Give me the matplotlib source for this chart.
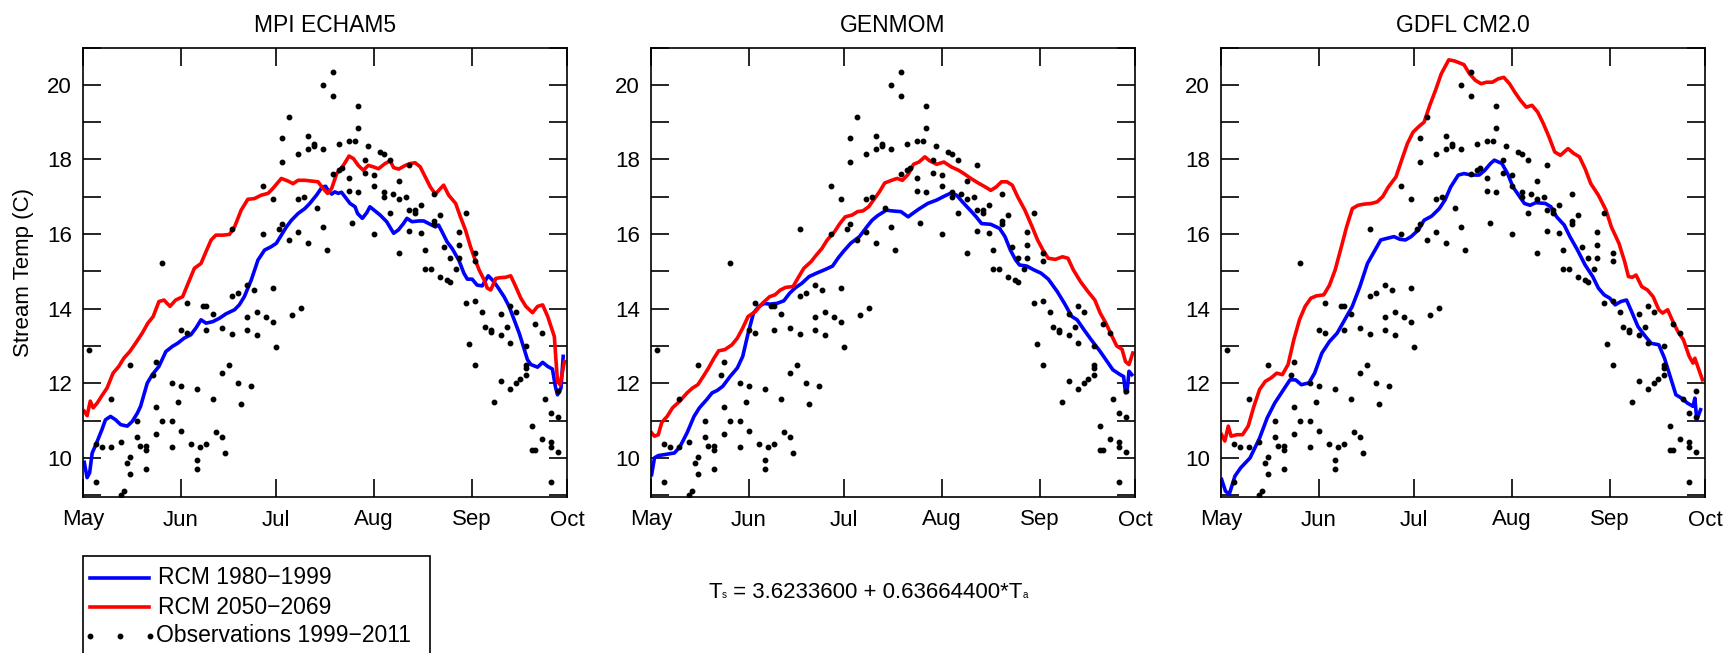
"""
Stream temperature: RCM runs for 1980-1999 and 2050-2069 against observations.
"""

import matplotlib.pyplot as plt
from matplotlib.lines import Line2D
from matplotlib.patches import Rectangle
from matplotlib.offsetbox import TextArea, HPacker, AnchoredOffsetbox

plt.rcParams["font.family"] = ["Liberation Sans", "DejaVu Sans"]

W, H = 1731, 653

month_days = [0, 31, 61, 92, 123, 153]
month_names = ["May", "Jun", "Jul", "Aug", "Sep", "Oct"]
models = ["MPI ECHAM5", "GENMOM", "GDFL CM2.0"]

# observations 1999-2011, day counted from May 1
obs_day = [2, 4, 4, 6, 9, 9, 12, 12, 13, 14, 15, 15, 15, 17, 17, 18, 20, 20, 20,
           22, 23, 23, 23, 25, 25, 28, 28, 28, 30, 31, 31, 31, 33, 33, 34, 36, 36,
           36, 37, 38, 39, 39, 39, 41, 41, 42, 44, 44, 44, 45, 46, 47, 47, 47, 49,
           49, 50, 52, 52, 52, 53, 54, 55, 55, 57, 57, 58, 60, 60, 60, 61, 62, 63,
           63, 63, 65, 65, 66, 68, 68, 68, 69, 70, 71, 71, 71, 73, 73, 74, 76, 76,
           76, 77, 79, 79, 79, 81, 81, 82, 84, 84, 84, 85, 86, 87, 87, 87, 89, 89,
           90, 92, 92, 92, 94, 95, 95, 95, 97, 97, 98, 100, 100, 100, 102, 103, 103,
           103, 105, 105, 107, 107, 108, 108, 110, 111, 111, 111, 113, 113, 114, 115,
           116, 116, 118, 119, 119, 119, 121, 121, 122, 124, 124, 124, 124, 126, 127,
           129, 129, 130, 132, 132, 132, 134, 135, 135, 135, 137, 137, 138, 140, 140,
           140, 140, 142, 142, 143, 143, 145, 145, 146, 148, 148, 148, 148, 150, 150,
           150]
obs_temp = [12.90, 9.35, 10.36, 10.29, 11.57, 10.29, 10.42, 9.00, 9.11, 9.85, 10.03,
            12.50, 9.56, 11.00, 10.56, 10.31, 10.33, 10.20, 9.71, 12.21, 12.57, 11.35,
            10.63, 15.21, 11.00, 12.00, 11.00, 10.29, 11.50, 13.42, 11.93, 10.73, 14.14,
            13.35, 10.38, 11.85, 9.93, 9.71, 10.29, 14.07, 14.07, 13.42, 10.37, 13.85,
            11.57, 10.70, 13.49, 12.28, 10.56, 10.14, 12.50, 16.14, 14.35, 13.32, 14.42,
            12.00, 11.43, 14.63, 13.78, 13.42, 11.93, 14.49, 13.92, 13.28, 17.28, 16.00,
            13.78, 16.93, 14.56, 13.64, 12.97, 16.14, 18.57, 17.92, 16.27, 19.14, 15.85,
            13.84, 18.14, 16.93, 16.06, 14.03, 17.00, 18.64, 18.28, 15.75, 18.42, 18.35,
            16.71, 19.99, 18.28, 16.20, 15.57, 20.35, 19.71, 17.62, 18.42, 17.71, 17.78,
            18.49, 17.50, 17.16, 16.29, 18.49, 19.42, 18.85, 17.13, 17.99, 17.64, 18.35,
            17.57, 17.28, 16.00, 18.21, 18.14, 17.13, 17.00, 17.99, 16.57, 17.06, 17.42,
            16.93, 15.50, 17.00, 17.85, 16.64, 16.07, 16.64, 16.57, 16.78, 16.03, 15.56,
            15.06, 15.06, 17.06, 16.35, 16.27, 16.50, 14.85, 15.64, 14.78, 15.35, 14.71,
            15.06, 16.06, 15.71, 15.35, 16.57, 14.14, 13.04, 15.50, 15.28, 14.21, 12.50,
            13.92, 13.50, 13.43, 13.36, 11.50, 13.85, 13.28, 12.07, 13.50, 14.06, 13.07,
            11.85, 13.92, 12.00, 12.11, 13.00, 12.50, 12.42, 12.21, 10.86, 10.22, 13.60,
            10.22, 13.35, 10.50, 11.57, 11.21, 10.43, 10.29, 9.36, 11.09, 11.80, 10.16]

# MPI ECHAM5
mpi_base_day = [0.4, 1.3, 2.1, 2.9, 4.2, 6.0, 7.1, 8.7, 10.3, 11.9, 14.0, 15.6, 17.2,
                18.2, 20.3, 21.9, 24.0, 26.2, 28.3, 29.9, 32.0, 34.1, 35.7, 37.3, 38.9,
                41.0, 43.1, 45.2, 47.9, 49.4, 51.0, 53.2, 55.3, 57.4, 59.5, 61.1, 62.7,
                64.3, 65.9, 68.0, 70.1, 71.7, 73.8, 75.6, 76.7, 77.5, 78.6, 79.6, 80.7,
                81.7, 82.8, 84.4, 86.0, 86.8, 88.3, 89.7, 90.7, 92.3, 93.9, 96.0, 98.2,
                99.7, 101.3, 102.4, 104.0, 106.1, 107.7, 109.3, 111.4, 112.4, 113.5,
                115.1, 116.7, 118.8, 120.4, 121.5, 123.0, 124.6, 126.2, 128.1, 129.4,
                131.0, 133.1, 134.7, 136.3, 137.9, 138.9, 140.5, 141.6, 143.7, 145.3,
                146.9, 148.4, 149.3, 150.0, 151.1, 151.8]
mpi_base_temp = [9.88, 9.47, 9.60, 10.13, 10.38, 10.76, 11.02, 11.11, 11.02, 10.89,
                 10.85, 10.98, 11.20, 11.38, 12.00, 12.23, 12.45, 12.85, 12.99, 13.07,
                 13.21, 13.30, 13.48, 13.70, 13.61, 13.65, 13.74, 13.86, 13.97, 14.10,
                 14.32, 14.77, 15.30, 15.57, 15.66, 15.75, 15.97, 16.19, 16.37, 16.55,
                 16.68, 16.82, 17.04, 17.26, 17.28, 17.17, 17.07, 17.13, 17.09, 17.12,
                 17.00, 16.82, 16.73, 16.55, 16.42, 16.57, 16.73, 16.62, 16.51, 16.33,
                 16.02, 16.11, 16.28, 16.42, 16.33, 16.35, 16.35, 16.28, 16.19, 16.24,
                 16.06, 15.79, 15.61, 15.30, 14.95, 14.79, 14.79, 14.63, 14.61, 14.88,
                 14.77, 14.59, 14.32, 14.06, 13.70, 13.34, 13.07, 12.63, 12.50, 12.43,
                 12.56, 12.45, 12.38, 11.92, 11.69, 11.87, 12.72]
mpi_fut_day = [0.4, 1.3, 2.3, 3.2, 4.5, 6.0, 7.6, 9.5, 11.3, 12.9, 14.8, 16.6, 18.7,
               20.5, 22.2, 24.0, 25.6, 27.5, 29.3, 31.5, 33.0, 35.2, 37.3, 38.9, 40.5,
               42.0, 44.2, 46.3, 47.9, 50.0, 52.1, 54.2, 56.3, 58.5, 60.0, 62.7, 64.8,
               66.4, 68.0, 70.1, 72.2, 74.3, 75.9, 77.3, 78.6, 80.2, 82.3, 84.1, 85.5,
               87.0, 88.6, 90.2, 91.8, 93.4, 95.5, 97.1, 98.2, 99.8, 101.9, 103.5, 105.0,
               106.6, 108.2, 109.8, 111.4, 113.0, 114.0, 115.6, 117.8, 119.3, 120.9,
               122.5, 123.6, 125.2, 126.8, 127.8, 128.9, 130.5, 132.0, 133.6, 135.2,
               136.8, 138.4, 140.0, 142.1, 143.7, 145.3, 146.9, 149.0, 149.5, 150.0,
               150.8, 151.4, 152.2]
mpi_fut_temp = [11.25, 11.13, 11.52, 11.34, 11.47, 11.67, 11.87, 12.27, 12.45, 12.67,
                12.85, 13.07, 13.34, 13.61, 13.79, 14.19, 14.23, 14.06, 14.23, 14.32,
                14.63, 15.08, 15.21, 15.53, 15.84, 15.97, 15.97, 15.99, 16.19, 16.64,
                16.93, 16.95, 17.04, 17.09, 17.22, 17.49, 17.42, 17.35, 17.44, 17.44,
                17.42, 17.40, 17.22, 17.09, 17.22, 17.62, 17.84, 18.09, 18.02, 17.84,
                17.71, 17.84, 17.80, 17.75, 17.89, 17.96, 17.78, 17.74, 17.84, 17.89,
                17.91, 17.80, 17.53, 17.26, 17.07, 17.22, 17.31, 17.04, 16.82, 16.46,
                16.11, 15.66, 15.39, 15.04, 14.77, 14.55, 14.50, 14.81, 14.83, 14.84,
                14.88, 14.59, 14.28, 14.06, 13.89, 14.06, 14.10, 13.79, 13.25, 12.63,
                12.05, 11.96, 12.23, 12.58]

# GENMOM
gen_base_day = [0.2, 1.1, 2.3, 4.5, 7.4, 9.1, 11.4, 13.6, 15.3, 17.6, 19.3, 21.0, 22.7,
                25.0, 27.3, 29.0, 30.7, 32.4, 34.1, 35.8, 37.5, 39.8, 42.0, 43.8, 45.5,
                47.7, 50.0, 52.3, 55.1, 57.4, 59.1, 60.8, 63.1, 65.9, 68.2, 69.9, 71.6,
                74.4, 76.1, 79.0, 81.3, 82.7, 84.7, 87.5, 90.3, 92.6, 94.9, 96.6, 98.9,
                101.1, 102.8, 104.5, 107.4, 110.2, 111.9, 113.6, 115.3, 116.5, 118.8,
                121.0, 123.3, 125.6, 128.4, 130.7, 133.0, 134.7, 136.9, 139.2, 142.0,
                143.8, 146.0, 148.3, 149.4, 150.0, 150.6, 151.1, 152.0]
gen_base_temp = [9.55, 10.00, 10.06, 10.09, 10.13, 10.29, 10.67, 11.11, 11.34, 11.56,
                 11.74, 11.81, 11.92, 12.18, 12.41, 12.72, 13.34, 13.88, 14.06, 14.14,
                 14.12, 14.14, 14.21, 14.41, 14.55, 14.68, 14.86, 14.95, 15.05, 15.14,
                 15.35, 15.53, 15.75, 15.93, 16.19, 16.37, 16.49, 16.64, 16.62, 16.60,
                 16.46, 16.55, 16.67, 16.82, 16.91, 17.01, 17.10, 17.04, 16.82, 16.62,
                 16.46, 16.28, 16.26, 16.15, 15.93, 15.57, 15.30, 15.17, 15.14, 15.04,
                 14.95, 14.79, 14.46, 14.14, 13.79, 13.70, 13.43, 13.16, 12.85, 12.63,
                 12.36, 12.23, 12.18, 11.74, 11.87, 12.32, 12.23]
gen_fut_day = [0.2, 1.1, 2.3, 3.4, 5.1, 6.8, 9.1, 11.4, 13.1, 14.8, 16.5, 18.2, 19.9,
               21.4, 23.3, 25.6, 27.3, 29.0, 30.7, 33.0, 35.2, 37.5, 39.2, 40.9, 42.6,
               44.9, 46.6, 48.3, 50.6, 52.3, 54.0, 55.7, 58.0, 59.7, 61.4, 63.6, 65.3,
               67.0, 68.8, 70.5, 72.2, 73.9, 76.1, 77.8, 79.5, 81.3, 83.0, 84.7, 86.6,
               88.1, 90.3, 92.6, 94.9, 97.2, 98.9, 101.1, 103.4, 105.7, 107.4, 109.1,
               110.8, 112.5, 114.2, 115.9, 118.2, 120.5, 122.2, 123.9, 125.6, 127.8,
               130.1, 131.8, 133.5, 135.8, 138.1, 140.3, 142.0, 143.8, 145.5, 147.2,
               148.9, 150.0, 151.1, 152.3]
gen_fut_temp = [10.67, 10.58, 10.62, 10.95, 11.11, 11.34, 11.52, 11.74, 11.87, 11.96,
                12.18, 12.41, 12.67, 12.87, 12.90, 13.03, 13.21, 13.48, 13.79, 13.92,
                14.14, 14.32, 14.37, 14.50, 14.57, 14.59, 14.84, 15.08, 15.26, 15.44,
                15.61, 15.84, 16.06, 16.28, 16.46, 16.51, 16.60, 16.62, 16.73, 16.93,
                17.13, 17.37, 17.44, 17.49, 17.44, 17.60, 17.87, 17.93, 18.07, 17.96,
                17.87, 17.93, 17.80, 17.71, 17.62, 17.49, 17.37, 17.26, 17.17, 17.26,
                17.40, 17.40, 17.31, 17.00, 16.64, 16.19, 15.84, 15.57, 15.35, 15.32,
                15.39, 15.35, 15.04, 14.72, 14.46, 14.23, 13.88, 13.61, 13.30, 13.00,
                12.91, 12.58, 12.50, 12.81]

# GDFL CM2.0
gdfl_base_day = [0.2, 1.4, 2.6, 4.4, 6.2, 9.2, 12.2, 14.6, 17.0, 19.4, 21.8, 23.6, 25.4,
                 27.8, 29.6, 31.9, 34.3, 36.7, 39.1, 41.5, 43.9, 46.3, 48.7, 50.5, 52.3,
                 54.7, 56.5, 58.3, 60.1, 62.4, 64.2, 66.6, 69.0, 70.8, 72.6, 75.0, 76.8,
                 79.2, 81.6, 83.4, 85.2, 86.4, 88.8, 90.6, 92.3, 94.1, 95.9, 97.7, 99.5,
                 102.5, 104.3, 106.1, 108.5, 110.3, 112.7, 115.1, 117.5, 119.3, 121.1,
                 122.9, 124.6, 126.4, 128.2, 130.0, 131.8, 134.2, 136.0, 138.4, 140.2,
                 142.0, 143.8, 145.6, 147.4, 149.2, 149.8, 150.4, 151.6]
gdfl_base_temp = [9.42, 9.11, 9.02, 9.51, 9.73, 10.00, 10.53, 11.07, 11.47, 11.78, 12.09,
                  12.09, 11.96, 12.01, 12.27, 12.81, 13.12, 13.34, 13.70, 14.06, 14.59,
                  15.21, 15.57, 15.84, 15.88, 15.93, 15.86, 15.84, 15.93, 16.11, 16.37,
                  16.48, 16.68, 16.91, 17.26, 17.58, 17.62, 17.58, 17.58, 17.71, 17.89,
                  17.98, 17.89, 17.62, 17.26, 17.04, 16.82, 16.77, 16.84, 16.82, 16.73,
                  16.46, 16.24, 15.93, 15.57, 15.17, 14.86, 14.55, 14.37, 14.28, 14.10,
                  14.19, 14.23, 13.88, 13.52, 13.25, 13.07, 13.03, 12.67, 12.18, 11.69,
                  11.60, 11.47, 11.38, 11.60, 11.02, 11.29]
gdfl_fut_day = [0.2, 1.2, 2.3, 3.2, 5.0, 6.8, 8.6, 10.4, 12.2, 14.0, 15.8, 17.6, 19.4,
                21.2, 23.0, 24.8, 26.6, 28.4, 30.1, 32.5, 34.3, 36.1, 37.9, 39.7, 41.5,
                43.3, 45.1, 47.5, 49.3, 51.1, 52.9, 55.3, 57.1, 58.9, 60.7, 62.4, 64.2,
                66.0, 67.8, 69.6, 72.0, 73.8, 75.6, 76.8, 78.6, 80.4, 82.2, 84.0, 85.8,
                87.6, 89.4, 91.2, 92.9, 94.7, 96.5, 98.3, 100.1, 101.9, 103.7, 105.5,
                107.3, 109.7, 111.5, 113.3, 115.1, 116.9, 119.3, 121.7, 123.4, 125.8,
                127.6, 128.8, 130.0, 131.2, 133.0, 134.8, 136.6, 138.4, 139.6, 141.2,
                142.6, 144.4, 146.2, 148.0, 149.2, 149.8, 150.7, 152.2]
gdfl_fut_temp = [10.62, 10.45, 10.85, 10.58, 10.62, 10.62, 10.85, 11.38, 11.83, 12.05,
                 12.14, 12.27, 12.23, 12.50, 13.16, 13.70, 14.06, 14.28, 14.34, 14.37,
                 14.63, 15.04, 15.61, 16.19, 16.68, 16.77, 16.80, 16.82, 16.86, 17.00,
                 17.26, 17.53, 17.98, 18.42, 18.73, 18.87, 19.00, 19.45, 19.85, 20.29,
                 20.67, 20.64, 20.58, 20.54, 20.29, 20.12, 20.03, 20.07, 20.07, 20.16,
                 20.20, 20.03, 19.80, 19.58, 19.40, 19.45, 19.27, 18.96, 18.60, 18.20,
                 18.11, 18.29, 18.16, 18.07, 17.75, 17.35, 17.04, 16.64, 16.19, 15.75,
                 15.26, 14.86, 14.84, 14.90, 14.59, 14.50, 14.32, 13.97, 13.88, 13.97,
                 13.70, 13.39, 13.16, 12.72, 12.54, 12.67, 12.45, 12.09]


def fx(px):
    return px / W


def fy(py):
    return 1 - py / H


def panel(ax, title, base_day, base_temp, fut_day, fut_temp):
    ax.plot(base_day, base_temp, color="blue", lw=2.6, zorder=2)
    ax.plot(fut_day, fut_temp, color="red", lw=2.6, zorder=2)
    ax.plot(obs_day, obs_temp, ls="none", marker="o", ms=3.2, color="k", zorder=3)

    ax.set_xlim(0, 153)
    ax.set_ylim(8.95, 21.0)
    ax.set_xticks(month_days)
    ax.set_xticklabels(month_names)
    ax.set_yticks(range(10, 21, 2))
    ax.set_yticks(range(9, 22, 2), minor=True)
    ax.tick_params(which="both", direction="in", top=True, right=True,
                   length=13, width=1.2, labelsize=16)
    ax.tick_params(axis="x", pad=9)
    ax.tick_params(axis="y", pad=8)
    for s in ax.spines.values():
        s.set_linewidth(1.2)
    ax.set_title(title, fontsize=16.5, pad=11)


def main():
    fig = plt.figure(figsize=(W / 100, H / 100), dpi=100)

    lefts = [83, 651, 1221]
    series = [(mpi_base_day, mpi_base_temp, mpi_fut_day, mpi_fut_temp),
              (gen_base_day, gen_base_temp, gen_fut_day, gen_fut_temp),
              (gdfl_base_day, gdfl_base_temp, gdfl_fut_day, gdfl_fut_temp)]
    for left, name, s in zip(lefts, models, series):
        ax = fig.add_axes([fx(left), fy(497), fx(484), 449.5 / H])
        panel(ax, name, *s)

    fig.text(fx(24), fy(272), "Stream Temp (C)", rotation=90,
             ha="center", va="center", fontsize=16)

    # legend box, runs off the bottom edge
    fig.add_artist(Rectangle((fx(83), fy(665)), fx(430 - 83), 109 / H,
                             transform=fig.transFigure, fill=False,
                             lw=1.2, ec="k"))
    rows = [(578, "blue", "RCM 1980\u22121999"),
            (607, "red", "RCM 2050\u22122069")]
    for y, c, label in rows:
        fig.add_artist(Line2D([fx(90), fx(149)], [fy(y), fy(y)], color=c,
                              lw=2.6, transform=fig.transFigure))
        fig.text(fx(158), fy(y), label, va="center", fontsize=16.5)
    fig.add_artist(Line2D([fx(90), fx(120), fx(150)], [fy(636)] * 3, ls="none",
                          marker="o", ms=3.2, color="k",
                          transform=fig.transFigure))
    fig.text(fx(156), fy(636), "Observations 1999\u22122011", va="center",
             fontsize=16.5)

    # regression used for stream temperature
    big = dict(fontsize=16)
    small = dict(fontsize=7)
    eq = HPacker(children=[TextArea("T", textprops=big),
                           TextArea("s", textprops=small),
                           TextArea(" = 3.6233600 + 0.63664400*T", textprops=big),
                           TextArea("a", textprops=small)],
                 align="baseline", pad=0, sep=0)
    fig.add_artist(AnchoredOffsetbox(loc="center", child=eq, frameon=False,
                                     pad=0, borderpad=0,
                                     bbox_to_anchor=(fx(868), fy(593)),
                                     bbox_transform=fig.transFigure))

    fig.savefig("out.png", dpi=100)


if __name__ == "__main__":
    main()
